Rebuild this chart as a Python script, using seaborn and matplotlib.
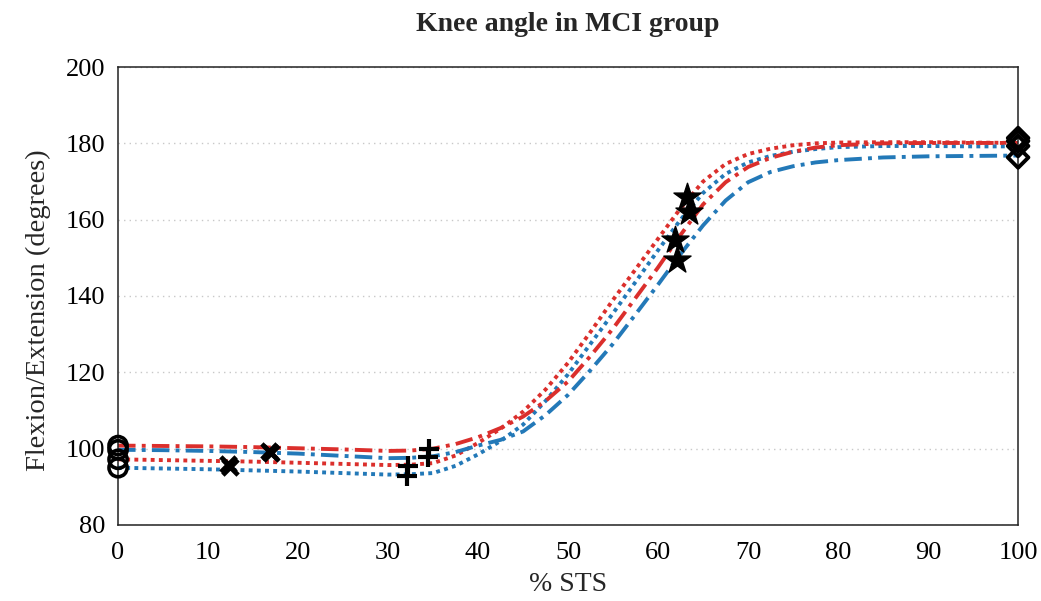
import matplotlib
matplotlib.use("Agg")
import matplotlib.pyplot as plt
import seaborn as sns
import pandas as pd

# ---- data ----
sts_pct = [0, 5, 10, 15, 20, 25, 30, 32.5, 35, 37.5, 40, 42.5, 45, 47.5, 50, 52.5,
           55, 57.5, 60, 62.5, 65, 67.5, 70, 72.5, 75, 77.5, 80, 85, 90, 95, 100]
red_dashdot = [100.8, 100.7, 100.6, 100.4, 100.1, 99.8, 99.4, 99.5, 100.0, 101.2, 103.0,
               105.4, 108.4, 112.5, 117.6, 124.3, 131.5, 139.5, 147.5, 156.0, 164.0, 169.8,
               173.8, 176.2, 177.8, 178.9, 179.5, 180.0, 180.1, 180.1, 180.1]
blue_dashdot = [99.7, 99.6, 99.4, 99.1, 98.7, 98.1, 97.5, 97.6, 98.0, 99.1, 100.8, 102.3,
                104.5, 108.8, 114.1, 120.6, 127.5, 135.2, 143.0, 151.0, 158.5, 165.0, 169.8,
                172.5, 174.0, 175.0, 175.6, 176.3, 176.6, 176.7, 176.8]
red_dotted = [97.2, 97.0, 96.8, 96.6, 96.3, 96.0, 95.7, 95.8, 96.2, 98.2, 101.5, 105.2,
              109.7, 115.5, 122.5, 130.6, 139.0, 147.0, 155.0, 163.0, 170.0, 174.6, 177.2,
              178.6, 179.5, 180.0, 180.2, 180.3, 180.3, 180.2, 180.1]
blue_dotted = [95.0, 94.8, 94.6, 94.3, 94.0, 93.6, 93.2, 93.3, 93.6, 95.5, 98.5, 102.0,
               106.3, 112.5, 119.5, 127.5, 135.5, 143.7, 152.0, 160.0, 167.0, 172.0, 175.0,
               176.7, 177.8, 178.5, 179.0, 179.3, 179.3, 179.2, 179.2]

# event markers (order: red dash-dot, blue dash-dot, red dotted, blue dotted)
circle_x = [0, 0, 0, 0]
circle_y = [100.8, 99.7, 97.2, 95.0]
xmark_x = [16.8, 17.0, 12.2, 12.4]
xmark_y = [99.5, 98.8, 96.0, 95.2]
plus_x = [34.5, 34.4, 32.2, 32.1]
plus_y = [99.8, 97.9, 95.4, 92.8]
star_x = [61.9, 62.1, 63.2, 63.4]
star_y = [154.7, 149.4, 166.0, 162.0]
diamond_x = [100, 100, 100, 100]
diamond_y = [180.6, 176.3, 181.4, 179.3]

title = "Knee angle in MCI group"
x_label = "% STS"
y_label = "Flexion/Extension (degrees)"
x_ticks = [0, 10, 20, 30, 40, 50, 60, 70, 80, 90, 100]
y_ticks = [80, 100, 120, 140, 160, 180, 200]

RED = "#db2f2c"
BLUE = "#2379b8"

sns.set_style("white")
plt.rcParams["font.family"] = ["Liberation Serif", "DejaVu Serif"]

fig = plt.figure(figsize=(10.41, 6.01), dpi=100)
ax = fig.add_axes([0.1134, 0.1265, 0.8646, 0.762])

series = [
    (red_dotted, RED, (0, (1, 1.1))),
    (blue_dotted, BLUE, (0, (1, 1.1))),
    (blue_dashdot, BLUE, (0, (4.5, 1.6, 1, 1.6))),
    (red_dashdot, RED, (0, (4.5, 1.6, 1, 1.6))),
]
for vals, col, ls in series:
    df = pd.DataFrame({"x": sts_pct, "y": vals})
    sns.lineplot(data=df, x="x", y="y", ax=ax, color=col, linewidth=2.8,
                 linestyle=ls, estimator=None, sort=False)

def markers(xs, ys, marker, size, filled=False, lw=2.2):
    df = pd.DataFrame({"x": xs, "y": ys})
    if filled:
        sns.scatterplot(data=df, x="x", y="y", ax=ax, marker=marker, s=size,
                        color="black", edgecolor="black", linewidth=1.0,
                        zorder=5, clip_on=False)
    elif marker in ("x", "+"):
        sns.scatterplot(data=df, x="x", y="y", ax=ax, marker=marker, s=size,
                        color="black", linewidth=lw, zorder=5, clip_on=False)
    else:
        sns.scatterplot(data=df, x="x", y="y", ax=ax, marker=marker, s=size,
                        facecolor="none", edgecolor="black", linewidth=lw,
                        zorder=5, clip_on=False)

markers(circle_x, circle_y, "o", 170, lw=2.6)
markers(xmark_x, xmark_y, "x", 120, lw=3.4)
markers(plus_x, plus_y, "+", 200, lw=3.0)
markers(star_x, star_y, "*", 420, filled=True)
markers(diamond_x, diamond_y, "D", 110, lw=2.8)

ax.set_xlim(0, 100)
ax.set_ylim(80, 200)
ax.set_xticks(x_ticks)
ax.set_yticks(y_ticks)
ax.tick_params(direction="in", length=6, width=1, labelsize=19, colors="black")
ax.tick_params(axis="y", pad=9)
ax.tick_params(axis="x", pad=12)
for s in ax.spines.values():
    s.set_visible(True)
    s.set_color("#222222")
    s.set_linewidth(1.1)

ax.yaxis.grid(True, linestyle=(0, (1, 3)), color="#c8c8c8", linewidth=1.0)
ax.xaxis.grid(False)
ax.set_axisbelow(True)

ax.set_xlabel(x_label, fontsize=20, labelpad=6)
ax.set_ylabel(y_label, fontsize=20.5)
ax.yaxis.set_label_coords(-0.075, 0.47)
ax.set_title(title, fontsize=20, fontweight="bold", pad=26)

fig.savefig("out.png", dpi=100, facecolor="white")
